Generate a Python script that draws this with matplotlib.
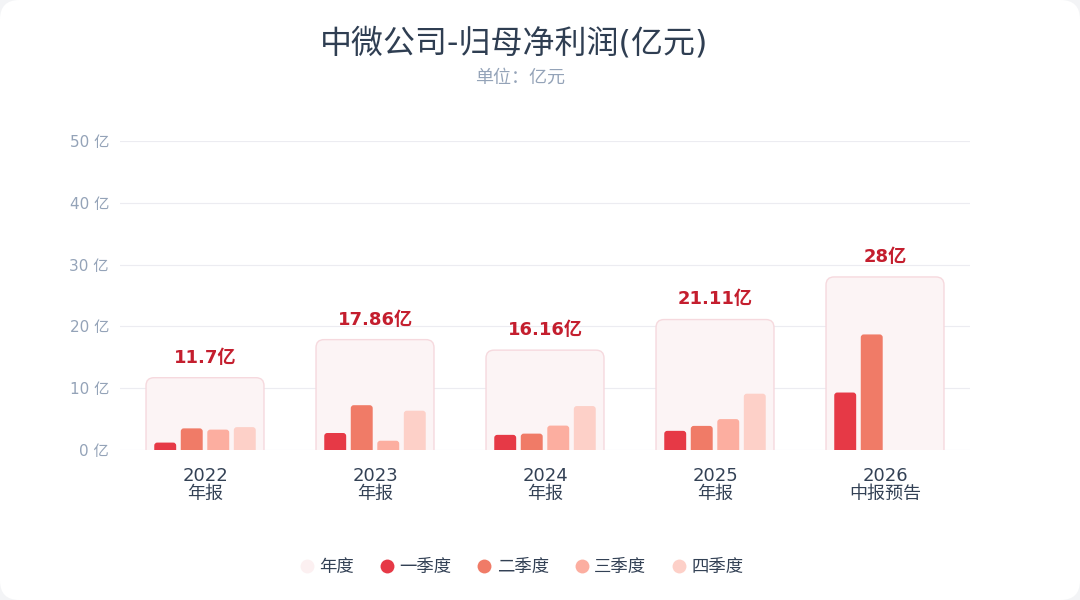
import matplotlib
matplotlib.use("Agg")
import matplotlib.pyplot as plt
from matplotlib.patches import FancyBboxPatch
from matplotlib.lines import Line2D
import numpy as np

plt.rcParams['font.family'] = ['DejaVu Sans', 'Noto Sans CJK SC']

years = ['2022', '2023', '2024', '2025', '2026']
periods = ['年报', '年报', '年报', '年报', '中报预告']
annual = [11.7, 17.86, 16.16, 21.11, 28]
annual_labels = ['11.7亿', '17.86亿', '16.16亿', '21.11亿', '28亿']
q1 = [1.2, 2.75, 2.45, 3.1, 9.3]
q2 = [3.5, 7.25, 2.65, 3.9, 18.7]
q3 = [3.3, 1.5, 3.95, 5.0, 0]
q4 = [3.7, 6.36, 7.11, 9.11, 0]
yticks = [0, 10, 20, 30, 40, 50]
legend_labels = ['年度', '一季度', '二季度', '三季度', '四季度']

c_annual = '#fcf4f5'
c_annual_edge = '#f6d9de'
colors = ['#e63946', '#f07b67', '#fcaea0', '#fdd0c8']
legend_colors = ['#fcf0f1'] + colors

fig = plt.figure(figsize=(10.8, 6), dpi=100)
fig.patch.set_facecolor('#f3f4f6')
card = FancyBboxPatch((0.0, 0.0), 1.0, 1.0, boxstyle="round,pad=0,rounding_size=0.018",
                      transform=fig.transFigure, facecolor='white', edgecolor='none',
                      mutation_aspect=1.8, zorder=-10)
fig.patches.append(card)

ax = fig.add_axes([120/1080, 150/600, 850/1080, 309/600])
ax.set_facecolor('none')
ax.set_xlim(-0.5, 4.5)
ax.set_ylim(0, 50)

aspect = (50/309) / (5/850)

def round_bars(container, r_px, **kw):
    for p in container.patches:
        x, y, w, h = p.get_x(), p.get_y(), p.get_width(), p.get_height()
        p.set_visible(False)
        if h <= 0:
            continue
        r = r_px / 170.0
        ext = r * aspect
        fb = FancyBboxPatch((x, y - ext), w, h + ext,
                            boxstyle=f"round,pad=0,rounding_size={r}",
                            mutation_aspect=aspect, clip_on=True, **kw)
        ax.add_patch(fb)

xpos = np.arange(len(years))
bw_a = 0.694
ca = ax.bar(xpos, annual, width=bw_a)
round_bars(ca, 8, facecolor=c_annual, edgecolor=c_annual_edge, linewidth=1.0, zorder=2)

offs = [-0.234, -0.078, 0.078, 0.234]
bw = 0.129
for i, (vals, col) in enumerate(zip([q1, q2, q3, q4], colors)):
    cb = ax.bar(xpos + offs[i], vals, width=bw)
    round_bars(cb, 3, facecolor=col, edgecolor='none', zorder=3)

for x, v, lab in zip(xpos, annual, annual_labels):
    ax.annotate(lab, (x, v), xytext=(0, 8), textcoords='offset points',
                ha='center', va='bottom', fontsize=13, fontweight='bold', color='#c41e2e')

ax.set_yticks(yticks)
ax.set_yticklabels([f'{t} 亿' for t in yticks], color='#94a3b8', fontsize=11)
ax.set_xticks(xpos)
ax.set_xticklabels([f'{y}\n{p}' for y, p in zip(years, periods)], color='#334155',
                   fontsize=13, linespacing=1.05)
ax.tick_params(axis='both', length=0)
ax.tick_params(axis='y', pad=8)
ax.tick_params(axis='x', pad=12)
ax.grid(axis='y', color='#ececf1', linewidth=0.8, zorder=0)
ax.set_axisbelow(True)
for s in ax.spines.values():
    s.set_visible(False)

fig.text(514/1080, 1 - 44/600, '中微公司-归母净利润(亿元)', ha='center', va='center',
         fontsize=23, color='#2f3e52')
fig.text(520/1080, 1 - 78/600, '单位：亿元', ha='center', va='center',
         fontsize=13, color='#94a3b8')

handles = [Line2D([0], [0], marker='o', linestyle='none', markersize=10,
                  markerfacecolor=c, markeredgecolor='none') for c in legend_colors]
fig.legend(handles, legend_labels, loc='center', bbox_to_anchor=(520/1080, 1 - 567/600),
           ncol=5, frameon=False, fontsize=12.5, handletextpad=0.1, columnspacing=1.3,
           labelcolor='#334155', handlelength=1.2)

fig.savefig('out.png', dpi=100, facecolor=fig.get_facecolor())
